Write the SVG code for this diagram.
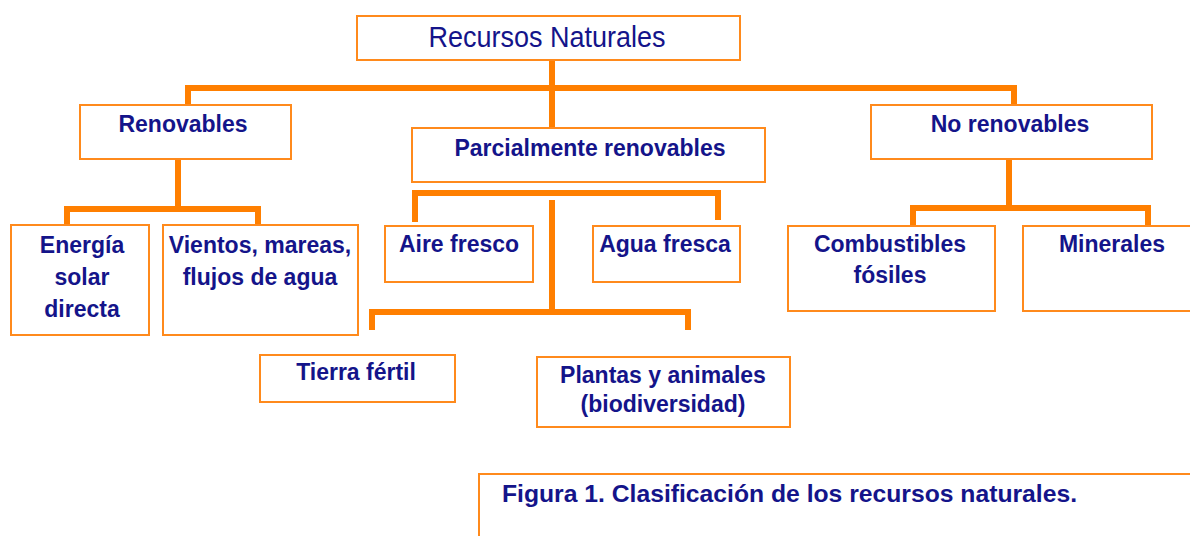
<svg xmlns="http://www.w3.org/2000/svg" width="1190" height="536" viewBox="0 0 1190 536">
<style>
.box{fill:#fff;stroke:#ff8a1c;stroke-width:2}
.ln{fill:none;stroke:#ff7f00;stroke-width:6;stroke-linejoin:miter;stroke-linecap:butt}
text{font-family:"Liberation Sans",Arial,sans-serif;fill:#14148a;text-anchor:middle}
.b{font-weight:bold;font-size:23px}
.t{font-size:29px}
</style>
<rect width="1190" height="536" fill="#fff"/>
<g id="connectors">
<path class="ln" d="M552 60V128"/>
<path class="ln" d="M188 105V88H1014V105"/>
<path class="ln" d="M178 143V209M67 225V209H258V225"/>
<path class="ln" d="M415 222V193H718V220"/>
<path class="ln" d="M552 200V312M372 330V312H688V330"/>
<path class="ln" d="M1009 143V208M913 225V208H1148V225"/>
</g>
<g id="n-root"><rect class="box" x="357" y="16" width="383" height="44"/><text class="t" x="547" y="47" textLength="237" lengthAdjust="spacingAndGlyphs">Recursos Naturales</text></g>
<g id="n-renov"><rect class="box" x="80" y="105" width="211" height="54"/><text class="b" x="183" y="132">Renovables</text></g>
<g id="n-parcial"><rect class="box" x="412" y="128" width="353" height="54"/><text class="b" x="590" y="156">Parcialmente renovables</text></g>
<g id="n-norenov"><rect class="box" x="871" y="105" width="281" height="54"/><text class="b" x="1010" y="132">No renovables</text></g>
<g id="n-energia"><rect class="box" x="11" y="225" width="138" height="110"/><text class="b" x="82" y="253">Energía</text><text class="b" x="82" y="285">solar</text><text class="b" x="82" y="317">directa</text></g>
<g id="n-vientos"><rect class="box" x="163" y="225" width="195" height="110"/><text class="b" x="260" y="253">Vientos, mareas,</text><text class="b" x="260" y="285">flujos de agua</text></g>
<g id="n-aire"><rect class="box" x="385" y="226" width="148" height="56"/><text class="b" x="459" y="252">Aire fresco</text></g>
<g id="n-agua"><rect class="box" x="593" y="226" width="147" height="56"/><text class="b" x="665" y="252">Agua fresca</text></g>
<g id="n-tierra"><rect class="box" x="260" y="355" width="195" height="47"/><text class="b" x="356" y="380">Tierra fértil</text></g>
<g id="n-plantas"><rect class="box" x="537" y="357" width="253" height="70"/><text class="b" x="663" y="383">Plantas y animales</text><text class="b" x="663" y="412">(biodiversidad)</text></g>
<g id="n-comb"><rect class="box" x="788" y="226" width="207" height="85"/><text class="b" x="890" y="252">Combustibles</text><text class="b" x="890" y="283">fósiles</text></g>
<g id="n-min"><rect class="box" x="1023" y="226" width="180" height="85"/><text class="b" x="1112" y="252">Minerales</text></g>
<g id="caption"><path d="M479 540V474H1195" fill="none" stroke="#ff8a1c" stroke-width="2"/><text x="502" y="502" style="text-anchor:start;font-weight:bold;font-size:24px" textLength="575" lengthAdjust="spacingAndGlyphs">Figura 1. Clasificación de los recursos naturales.</text></g>
</svg>
